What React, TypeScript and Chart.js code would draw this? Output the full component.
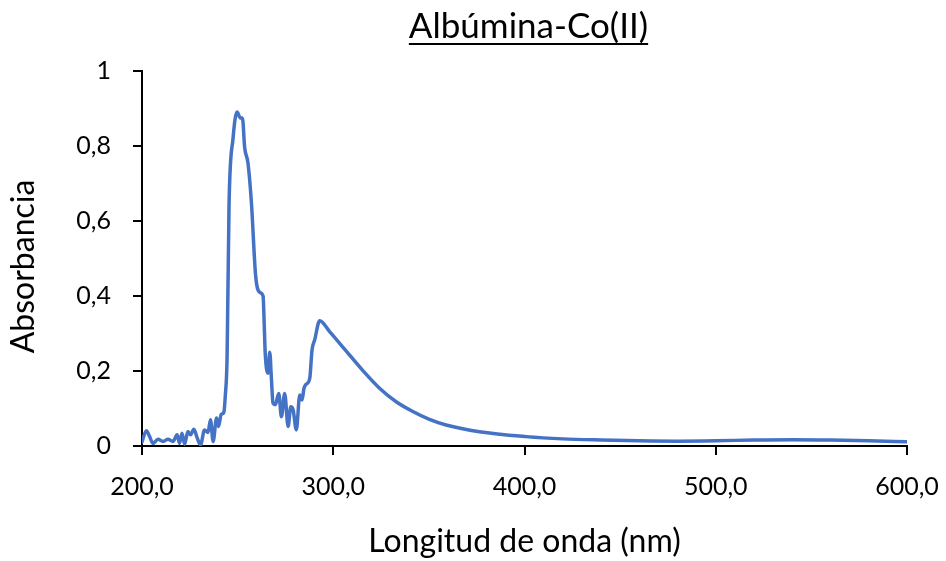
import React, { useEffect, useRef } from "react";
import { Chart, registerables } from "chart.js";

Chart.register(...registerables);

const TITLE = "Albúmina-Co(II)";
const X_TITLE = "Longitud de onda (nm)";
const Y_TITLE = "Absorbancia";

const wavelength: number[] = [
  200.0, 202.3, 204.0, 205.7, 208.4, 211.0, 213.6, 216.2, 218.4, 219.6,
  220.9, 222.3, 224.0, 225.4, 227.1, 228.9, 230.6, 232.7, 234.5, 235.8,
  237.2, 239.0, 240.0, 241.4, 242.8, 243.5, 244.5, 245.5, 247.6, 249.7,
  251.4, 252.5, 253.7, 255.4, 257.2, 259.4, 261.5, 263.3, 264.0, 264.4,
  265.9, 266.8, 267.6, 268.5, 269.7, 271.5, 272.9, 274.6, 276.4, 277.8,
  279.0, 280.7, 282.5, 283.7, 284.7, 285.9, 287.7, 288.9, 290.3, 292.9,
  298.1, 306.8, 315.5, 324.2, 332.9, 341.6, 350.3, 359.0, 376.4, 400.8,
  420.0, 440.0, 460.0, 480.0, 500.0, 520.0, 540.0, 560.0, 580.0, 600.0,
];

const absorbance: number[] = [
  0.011, 0.041, 0.025, 0.007, 0.018, 0.012, 0.018, 0.012, 0.03, 0.007,
  0.034, 0.005, 0.039, 0.03, 0.045, 0.021, 0.003, 0.043, 0.036, 0.07,
  0.012, 0.075, 0.052, 0.084, 0.09, 0.13, 0.24, 0.64, 0.82, 0.891,
  0.875, 0.875, 0.795, 0.755, 0.65, 0.455, 0.41, 0.4, 0.31, 0.25,
  0.194, 0.25, 0.186, 0.114, 0.11, 0.14, 0.078, 0.14, 0.052, 0.105,
  0.097, 0.043, 0.136, 0.123, 0.154, 0.165, 0.18, 0.256, 0.283, 0.334,
  0.305, 0.253, 0.201, 0.154, 0.118, 0.092, 0.071, 0.056, 0.038, 0.025,
  0.019, 0.016, 0.014, 0.013, 0.014, 0.016, 0.017, 0.016, 0.014, 0.011,
];

const xTicks: number[] = [200, 300, 400, 500, 600];
const yTicks: number[] = [0, 0.2, 0.4, 0.6, 0.8, 1];

const FONT = "Lato, 'Open Sans', sans-serif";

const textPlugin = {
  id: "titles",
  afterDraw(chart: any) {
    const ctx = chart.ctx;
    const area = chart.chartArea;
    ctx.save();
    ctx.font = `35px ${FONT}`;
    ctx.fillStyle = "#000";
    ctx.textAlign = "center";
    ctx.textBaseline = "alphabetic";
    const cx = (area.left + area.right) / 2 + 4;
    const y = 38;
    ctx.fillText(TITLE, cx, y);
    const w = ctx.measureText(TITLE).width;
    ctx.strokeStyle = "#000";
    ctx.lineWidth = 2;
    ctx.beginPath();
    ctx.moveTo(cx - w / 2, y + 6);
    ctx.lineTo(cx + w / 2, y + 6);
    ctx.stroke();

    ctx.translate(23.5, (area.top + area.bottom) / 2 + 8);
    ctx.rotate(-Math.PI / 2);
    ctx.font = `32px ${FONT}`;
    ctx.textBaseline = "middle";
    ctx.fillText(Y_TITLE, 0, 0);
    ctx.restore();
  },
};

export default function App() {
  const ref = useRef<HTMLCanvasElement | null>(null);
  useEffect(() => {
    if (!ref.current) return;
    const data = wavelength.map((x, i) => ({ x, y: absorbance[i] }));
    const chart = new Chart(ref.current, {
      type: "line",
      data: {
        datasets: [
          {
            data,
            borderColor: "#4472C4",
            borderWidth: 3.5,
            pointRadius: 0,
            cubicInterpolationMode: "monotone",
            fill: false,
            borderJoinStyle: "round",
            borderCapStyle: "round",
          },
        ],
      },
      options: {
        animation: false,
        responsive: true,
        maintainAspectRatio: false,
        layout: { padding: { top: 71, right: 39, left: 0, bottom: 0 } },
        plugins: { legend: { display: false }, tooltip: { enabled: false } },
        scales: {
          x: {
            type: "linear",
            min: 200,
            max: 600,
            afterBuildTicks: (s: any) => {
              s.ticks = xTicks.map((v) => ({ value: v }));
            },
            afterFit: (s: any) => {
              s.height = 115;
              s.paddingRight = 0;
              s.paddingLeft = 0;
            },
            grid: { display: true, drawOnChartArea: false, drawTicks: true, tickLength: 9, color: "#000", lineWidth: 2 },
            border: { display: true, color: "#000", width: 2 },
            ticks: {
              color: "#000",
              font: { family: FONT, size: 25 },
              padding: 17,
              maxRotation: 0,
              callback: (v: any) => Number(v).toFixed(1).replace(".", ","),
            },
            title: {
              display: true,
              text: X_TITLE,
              color: "#000",
              font: { family: FONT, size: 32 },
              padding: { top: 4, bottom: 0 },
            },
          },
          y: {
            min: 0,
            max: 1,
            afterBuildTicks: (s: any) => {
              s.ticks = yTicks.map((v) => ({ value: v }));
            },
            afterFit: (s: any) => {
              s.width = 142;
              s.paddingTop = 0;
              s.paddingBottom = 0;
            },
            grid: { display: true, drawOnChartArea: false, drawTicks: true, tickLength: 9, color: "#000", lineWidth: 2 },
            border: { display: true, color: "#000", width: 2 },
            ticks: {
              color: "#000",
              font: { family: FONT, size: 25 },
              padding: 22,
              callback: (v: any) => String(Math.round(Number(v) * 10) / 10).replace(".", ","),
            },
            title: { display: false },
          },
        },
      },
      plugins: [textPlugin],
    });
    return () => chart.destroy();
  }, []);
  return (
    <div style={{ position: "absolute", left: 0, top: 0, width: 946, height: 561, background: "#fff" }}>
      <canvas ref={ref} />
    </div>
  );
}
